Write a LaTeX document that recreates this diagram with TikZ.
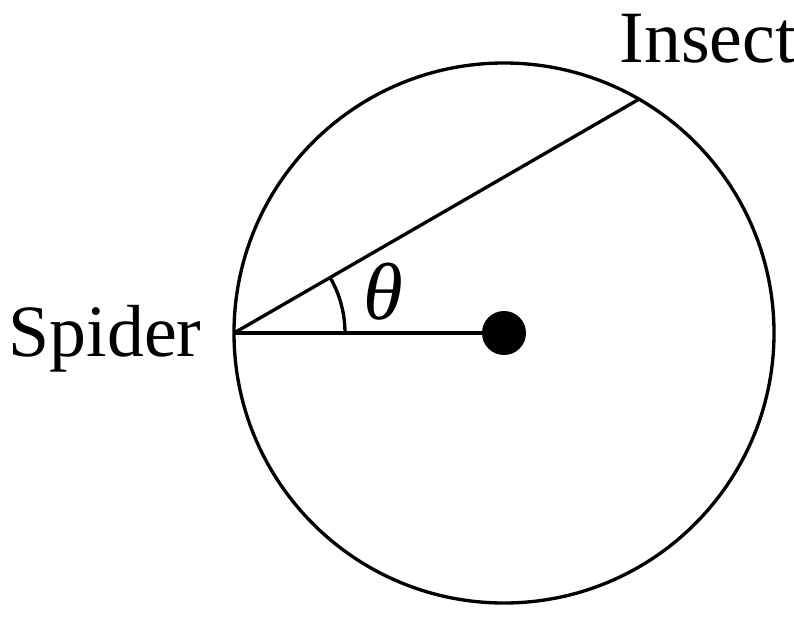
\documentclass[tikz,border=0pt]{standalone}
\usepackage{fontspec}
\setmainfont{Liberation Serif}
\usepackage{tikz}
\usetikzlibrary{calc}

\begin{document}
\begin{tikzpicture}[
    x=0.02cm,y=-0.02cm,
    line width=1.9pt,
    font=\fontsize{42}{46}\selectfont,
    lbl/.style={inner sep=0pt}
  ]
    \useasboundingbox (0,0) rectangle (794,616);
    % circle and its centre
    \coordinate (o) at (504,333);
    \draw (o) circle[radius=270];
    \fill (o) circle[radius=22];

    % points on the rim
    \coordinate (spider) at ($(o)+(-270,0)$);
    \coordinate (insect) at ($(o)+(135,-233.8)$);

    \draw (spider) -- (insect);
    \draw (spider) -- (o);
    \draw (spider) ++(111,0) arc[start angle=0,end angle=-30,radius=111];

    \node[lbl,anchor=base east] (spiderlbl) at (203,356) {Spider};
    \node[lbl,anchor=base west] (insectlbl) at (618,62) {Insect};
    \node[lbl,font=\fontsize{46}{50}\selectfont\itshape] (theta) at (383,292) {θ};
  \end{tikzpicture}
\end{document}
